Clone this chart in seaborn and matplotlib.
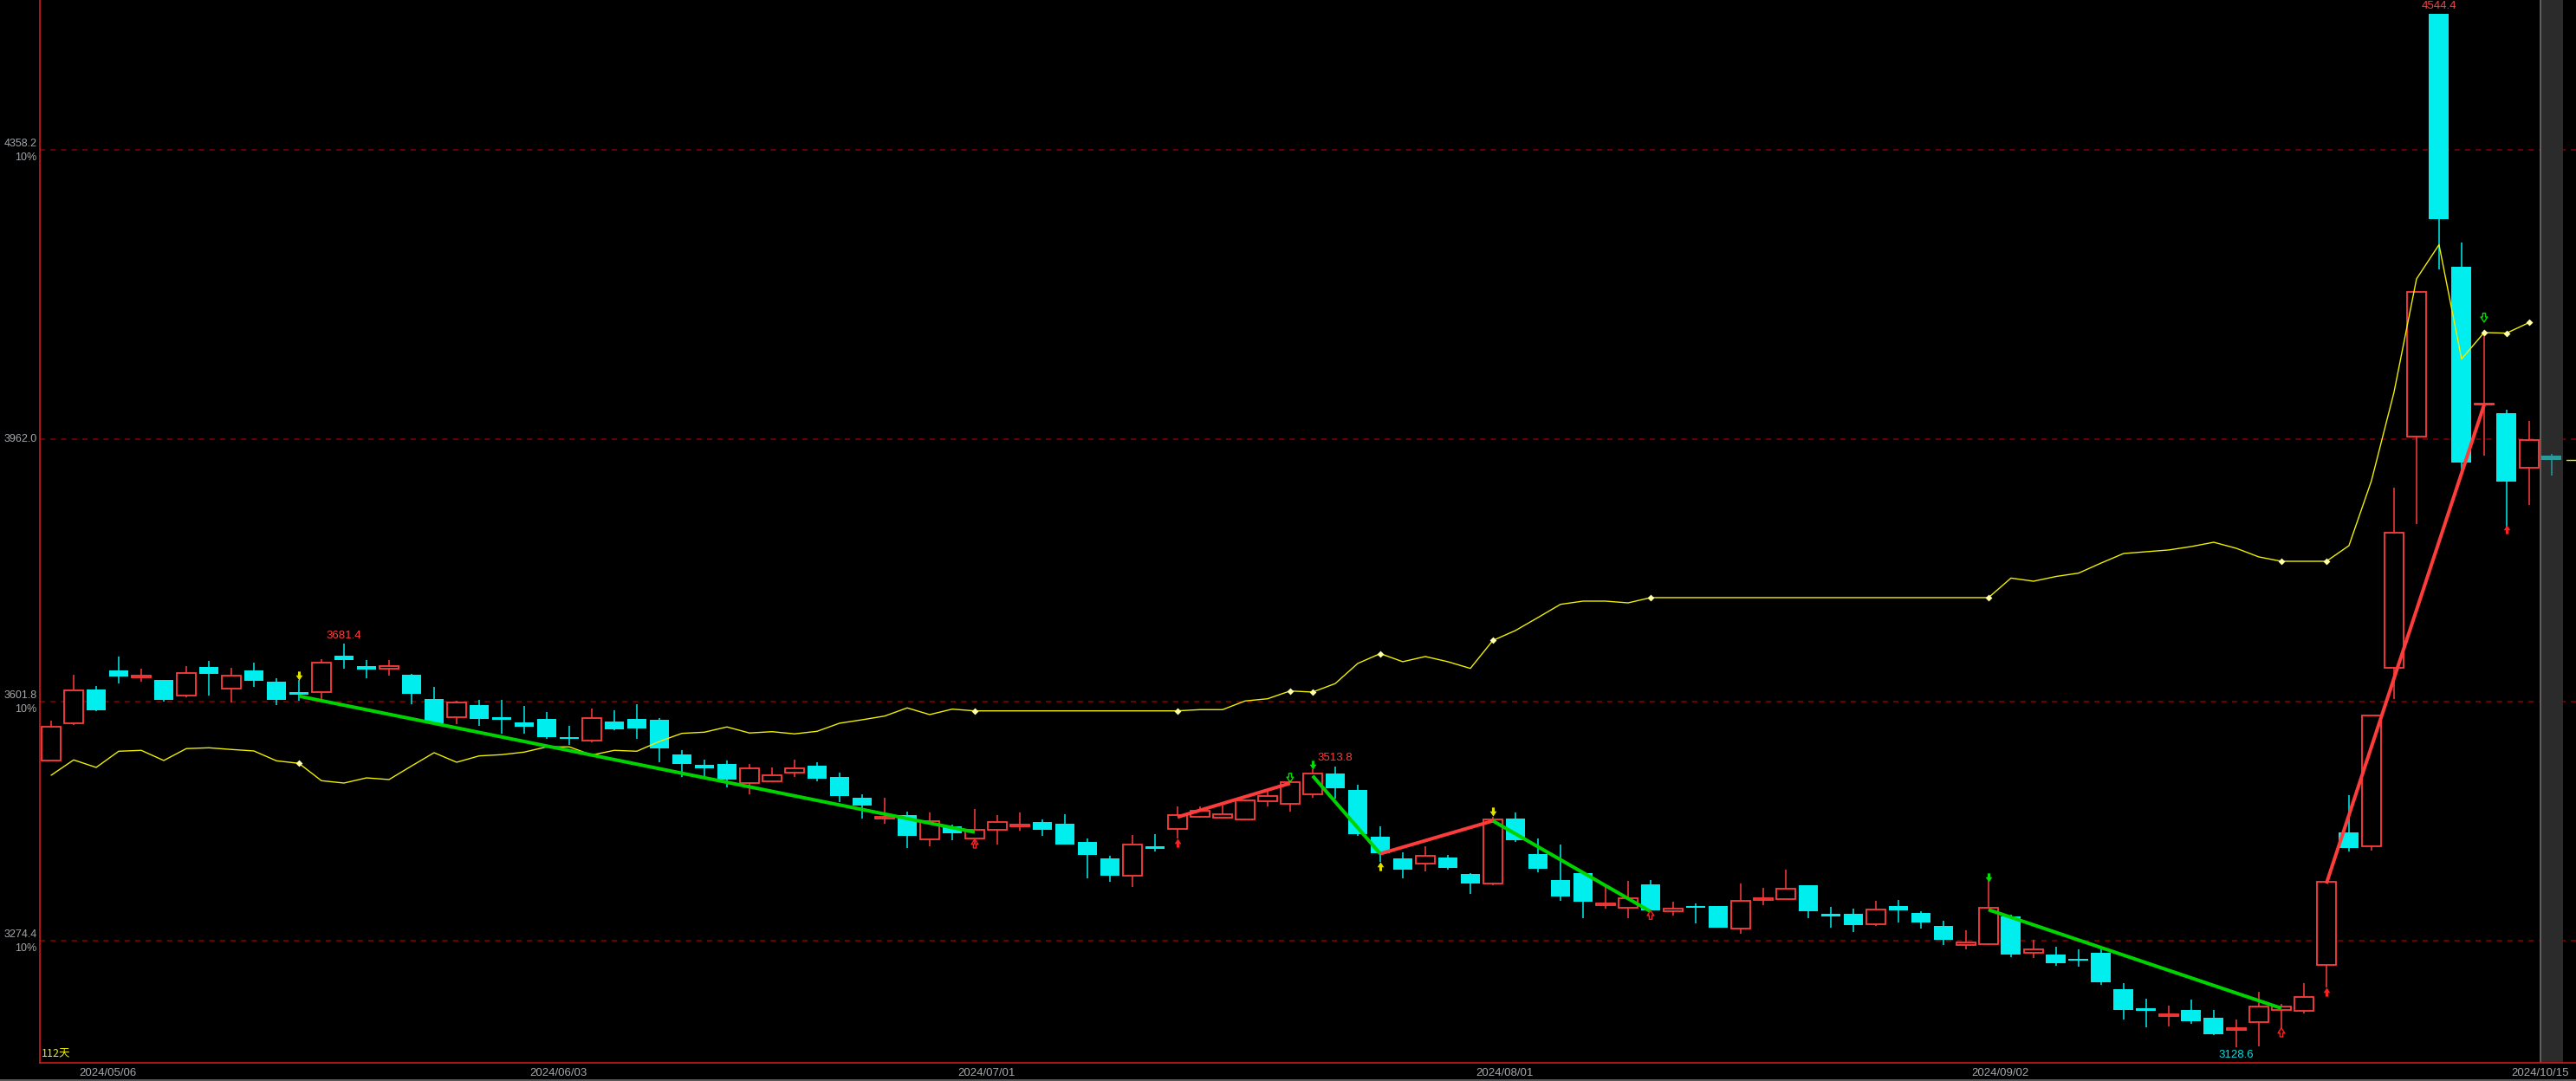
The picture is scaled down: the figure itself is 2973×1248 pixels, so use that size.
import numpy as np
import pandas as pd
import matplotlib
matplotlib.use("Agg")
import matplotlib.pyplot as plt
from matplotlib import font_manager
from matplotlib.lines import Line2D
import seaborn as sns

# ---- data (112 daily candles) ----
open_ = [3521.3, 3573.0, 3618.9, 3645.1, 3635.9, 3632.0, 3610.3, 3649.8, 3619.8, 3645.1,
         3629.6, 3615.4, 3615.0, 3665.8, 3651.2, 3647.8, 3638.9, 3605.9, 3581.3, 3597.6,
         3581.0, 3573.8, 3578.6, 3553.7, 3549.2, 3575.0, 3578.6, 3577.4, 3529.4, 3515.7,
         3516.9, 3490.4, 3493.5, 3505.4, 3514.5, 3499.0, 3470.1, 3442.1, 3446.8, 3413.9,
         3431.4, 3415.1, 3427.0, 3431.7, 3437.3, 3435.0, 3410.0, 3387.5, 3364.1, 3404.1,
         3428.2, 3444.8, 3443.6, 3441.3, 3466.2, 3462.6, 3475.7, 3503.8, 3481.3, 3417.2,
         3387.5, 3380.0, 3388.7, 3366.1, 3353.4, 3442.1, 3393.4, 3357.8, 3367.3, 3323.0,
         3320.2, 3351.9, 3314.7, 3322.2, 3322.2, 3291.0, 3330.2, 3332.0, 3350.7, 3311.5,
         3311.5, 3296.9, 3322.2, 3312.7, 3294.9, 3268.4, 3270.5, 3307.9, 3257.7, 3255.4,
         3249.8, 3258.1, 3208.2, 3182.1, 3171.8, 3179.8, 3169.1, 3152.8, 3163.5, 3180.1,
         3178.9, 3241.1, 3423.0, 3404.1, 3648.6, 3965.8, 4544.4, 4198.2, 4008.9, 3997.6,
         3922.6, 3939.4]
high = [3576.2, 3639.1, 3623.7, 3664.1, 3647.4, 3632.0, 3651.2, 3657.8, 3648.6, 3655.9,
        3634.0, 3632.0, 3660.6, 3681.4, 3659.4, 3659.4, 3639.7, 3622.5, 3603.5, 3604.7,
        3604.7, 3596.4, 3588.1, 3569.1, 3592.5, 3590.5, 3598.8, 3579.4, 3535.3, 3522.8,
        3521.6, 3516.9, 3512.1, 3522.8, 3519.2, 3504.9, 3475.3, 3470.1, 3451.6, 3450.4,
        3433.4, 3455.5, 3446.8, 3450.4, 3440.9, 3448.0, 3414.8, 3391.0, 3419.5, 3420.7,
        3458.7, 3458.7, 3459.9, 3468.6, 3483.3, 3494.7, 3509.7, 3513.8, 3488.4, 3431.4,
        3395.8, 3404.1, 3392.2, 3367.3, 3444.5, 3450.4, 3414.8, 3406.5, 3369.7, 3349.1,
        3357.0, 3357.8, 3328.1, 3325.7, 3322.2, 3353.0, 3347.1, 3372.1, 3350.7, 3321.0,
        3318.7, 3329.3, 3330.5, 3315.1, 3301.6, 3288.9, 3356.0, 3310.3, 3275.5, 3266.0,
        3262.8, 3266.4, 3216.5, 3195.2, 3185.7, 3194.0, 3179.8, 3166.7, 3204.7, 3187.7,
        3216.5, 3355.1, 3473.7, 3583.5, 3895.4, 4163.3, 4544.4, 4231.4, 4111.9, 4002.1,
        3986.9, 3941.8]
low = [3521.0, 3570.6, 3589.3, 3627.6, 3630.0, 3602.7, 3608.6, 3611.0, 3601.5, 3622.2,
       3598.0, 3603.2, 3604.3, 3647.8, 3634.0, 3637.9, 3599.1, 3569.7, 3571.5, 3569.1,
       3558.1, 3558.8, 3550.9, 3543.0, 3546.9, 3563.5, 3551.3, 3519.6, 3498.7, 3499.4,
       3484.8, 3475.7, 3492.3, 3499.4, 3493.5, 3465.0, 3442.4, 3435.3, 3402.1, 3404.5,
       3412.8, 3406.5, 3406.5, 3425.8, 3418.3, 3406.5, 3360.5, 3355.8, 3348.7, 3396.8,
       3415.1, 3443.3, 3442.1, 3439.7, 3459.1, 3452.0, 3470.6, 3469.8, 3418.3, 3382.4,
       3360.5, 3370.0, 3372.4, 3339.0, 3351.0, 3410.4, 3368.8, 3329.7, 3306.0, 3318.1,
       3306.0, 3315.1, 3309.5, 3298.8, 3293.0, 3284.6, 3323.7, 3332.0, 3306.0, 3293.0,
       3287.0, 3295.2, 3300.0, 3291.7, 3269.1, 3263.2, 3269.1, 3252.2, 3251.3, 3240.6,
       3239.5, 3214.5, 3167.1, 3156.4, 3157.6, 3161.1, 3145.7, 3128.6, 3130.2, 3154.8,
       3175.4, 3210.3, 3396.5, 3398.0, 3605.4, 3846.1, 4194.4, 3916.9, 3939.3, 3840.9,
       3871.2, 3912.7]
close = [3567.6, 3617.4, 3590.5, 3637.1, 3637.9, 3605.1, 3641.4, 3640.7, 3638.5, 3631.2,
         3605.1, 3611.5, 3655.5, 3659.6, 3646.8, 3650.6, 3613.4, 3573.0, 3601.1, 3578.6,
         3577.8, 3567.9, 3554.0, 3551.6, 3579.4, 3564.7, 3565.9, 3538.6, 3517.2, 3511.3,
         3495.9, 3511.0, 3501.4, 3510.6, 3496.7, 3473.3, 3459.9, 3444.8, 3418.3, 3438.2,
         3422.3, 3426.3, 3437.0, 3433.8, 3426.7, 3406.5, 3392.2, 3363.7, 3406.1, 3400.9,
         3446.5, 3452.4, 3447.7, 3466.7, 3472.6, 3491.6, 3503.5, 3483.6, 3420.7, 3394.9,
         3372.4, 3391.0, 3374.8, 3353.4, 3440.5, 3412.8, 3373.6, 3335.6, 3328.5, 3325.7,
         3332.5, 3316.6, 3318.3, 3320.2, 3293.0, 3329.0, 3332.5, 3345.6, 3315.5, 3308.3,
         3296.4, 3317.1, 3316.6, 3300.0, 3276.2, 3272.3, 3319.5, 3255.7, 3262.5, 3244.2,
         3247.8, 3218.1, 3180.1, 3178.9, 3173.8, 3164.7, 3146.9, 3154.8, 3184.2, 3184.5,
         3197.2, 3355.1, 3401.7, 3583.5, 3833.3, 4163.3, 4263.3, 3929.5, 4011.1, 3903.7,
         3961.2, 3933.5]

# yellow line
ma_line = ([3501.4, 3522.4, 3512.1, 3534.3, 3535.5, 3521.6, 3537.9, 3539.0, 3536.7, 3534.7,
            3521.2, 3517.7, 3493.9, 3490.7, 3497.8, 3495.5, 3514.1, 3532.3, 3519.2, 3527.9,
            3529.6, 3533.1, 3540.3, 3540.3, 3529.1, 3535.5, 3534.3, 3547.7, 3558.8, 3560.4,
            3567.6, 3559.3, 3561.1, 3558.1, 3561.6, 3572.7, 3577.4, 3582.5, 3593.7, 3584.5,
            3592.0]
           + [3589.6] * 10
           + [3591.3, 3591.3, 3603.2, 3606.2, 3616.9, 3615.4, 3627.0, 3654.6, 3668.1, 3657.0,
              3664.1, 3657.0, 3647.8, 3686.1, 3699.7, 3717.5, 3735.6, 3740.0, 3740.0, 3737.6]
           + [3744.8] * 16
           + [3771.6, 3767.3, 3773.8, 3778.4, 3792.2, 3805.3, 3807.7, 3810.1, 3814.8, 3820.7,
              3812.4, 3800.6, 3794.6, 3794.6, 3794.6, 3816.0, 3905.0, 4026.1, 4181.6, 4228.5,
              4071.8, 4108.0, 4107.3, 4121.8, np.nan])
ma_dots = [11, 41, 50, 55, 56, 59, 64, 71, 86, 99, 101, 108, 109, 110]

# zigzag trend segments
seg_x0 = [11, 50, 56, 59, 64, 86, 101]
seg_y0 = [3609.8, 3444.1, 3500.6, 3393.8, 3438.9, 3317.1, 3353.0]
seg_x1 = [41, 55, 59, 64, 71, 99, 108]
seg_y1 = [3423.4, 3490.4, 3393.8, 3438.9, 3314.7, 3182.1, 4008.9]
seg_up = [False, True, False, True, False, False, True]

# signal arrows: index, price, direction, colour, filled
sig_idx = [11, 41, 50, 55, 56, 59, 64, 71, 86, 99, 101, 108, 109]
sig_val = [3638.5, 3407.7, 3408.9, 3497.9, 3515.7, 3376.4, 3451.2, 3310.0, 3361.7,
           3148.9, 3204.4, 4128.5, 3838.5]
sig_dir = ["d", "u", "u", "d", "d", "u", "d", "u", "d", "u", "u", "d", "u"]
sig_col = ["y", "r", "r", "g", "g", "y", "y", "r", "g", "r", "r", "g", "r"]
sig_fill = [1, 0, 1, 0, 1, 1, 1, 0, 1, 0, 1, 0, 1]

grid_levels = [4358.2, 3962.0, 3601.8, 3274.4]
grid_labels = ["4358.2", "3962.0", "3601.8", "3274.4"]
grid_pct = ["10%", "", "10%", "10%"]

date_idx = [0, 20, 39, 62, 84]
date_labels = ["2024/05/06", "2024/06/03", "2024/07/01", "2024/08/01", "2024/09/02"]
last_date = "2024/10/15"

RED = "#ff3c3c"
CYAN = "#00eeee"
GREEN = "#00d400"
YELLOW = "#f0f000"
GRAY_TXT = "#a4a8ac"

sns.set_theme(style="dark", rc={"axes.facecolor": "black", "figure.facecolor": "black"})
names = {f.name for f in font_manager.fontManager.ttflist}
num_font = "Liberation Sans Narrow" if "Liberation Sans Narrow" in names else "Liberation Sans"
plt.rcParams["font.family"] = [num_font, "DejaVu Sans"]

o = np.array(open_)
h = np.array(high)
l = np.array(low)
c = np.array(close)
x = np.arange(len(c))
up = c >= o
bot = np.minimum(o, c)
bh = np.maximum(np.abs(c - o), 2.0)

fig = plt.figure(figsize=(29.73, 12.48), dpi=100)
ax = fig.add_axes([46 / 2973, 21 / 1248, 1 - 46 / 2973, 1 - 21 / 1248])
ax.set_facecolor("black")

for lv in grid_levels:
    ax.axhline(lv, color="#8a0000", lw=1.1, ls=(0, (4, 4)), zorder=1)

# current-bar band
ax.axvspan(110.5, 111.5, color="#2b2b2b", zorder=1.5, lw=0)
ax.axvline(110.5, color="#6e6e6e", lw=1.2, zorder=1.6)

last = len(c) - 1
main = x < last
ru = up & main
cd = (~up) & main

# wicks
ax.vlines(x[ru], l[ru], h[ru], color=RED, lw=1.1, zorder=2)
ax.vlines(x[cd], l[cd], h[cd], color=CYAN, lw=1.1, zorder=2)
ax.vlines([last], [l[last]], [h[last]], color="#2a9a9a", lw=1.1, zorder=2)

# bodies
ax.bar(x[ru], bh[ru], bottom=bot[ru], width=0.84, facecolor="black",
       edgecolor=RED, linewidth=1.3, zorder=3)
ax.bar(x[cd], bh[cd], bottom=bot[cd], width=0.88, color=CYAN, linewidth=0, zorder=3)
ax.bar([last], [max(abs(c[last] - o[last]), 4.0)], bottom=[min(o[last], c[last])],
       width=0.88, color="#2a9a9a", linewidth=0, zorder=3)

# yellow line
ma_df = pd.DataFrame({"idx": x, "ma": ma_line})
sns.lineplot(data=ma_df, x="idx", y="ma", color=YELLOW, linewidth=1.0, ax=ax, zorder=4)
ax.scatter(ma_dots, [ma_line[i] for i in ma_dots], marker="D", s=16,
           color="#ffffa8", zorder=5, linewidths=0)
ax.plot([111.65, 112.2], [c[last], c[last]], color=YELLOW, lw=1.0, zorder=4)

# zigzag
for x0, y0, x1, y1, isup in zip(seg_x0, seg_y0, seg_x1, seg_y1, seg_up):
    ax.plot([x0, x1], [y0, y1], color=RED if isup else GREEN, lw=2.9,
            solid_capstyle="butt", zorder=6)

# arrows
down_arrow = [(-0.3, 1), (0.3, 1), (0.3, 0.15), (0.75, 0.15), (0, -1),
              (-0.75, 0.15), (-0.3, 0.15), (-0.3, 1)]
up_arrow = [(vx, -vy) for vx, vy in down_arrow]
cmap = {"r": "#ff2020", "g": "#00e000", "y": "#e0e000"}
for i, v, d, col, f in zip(sig_idx, sig_val, sig_dir, sig_col, sig_fill):
    mk = down_arrow if d == "d" else up_arrow
    if f:
        ax.scatter([i], [v], marker=mk, s=55, color=cmap[col], linewidths=0, zorder=7)
    else:
        ax.scatter([i], [v], marker=mk, s=55, facecolors="none",
                   edgecolors=cmap[col], linewidths=1.0, zorder=7)

# extreme labels
hi_idx = [13, 57, 106]
for i in hi_idx:
    ax.annotate(f"{h[i]:.1f}", xy=(i, h[i]), xytext=(0, 7), textcoords="offset points",
                ha="center", va="center", color=RED, fontsize=9.5, zorder=8)
ax.annotate(f"{l[97]:.1f}", xy=(97, l[97]), xytext=(0, -6.5), textcoords="offset points",
            ha="center", va="center", color="#00e0e0", fontsize=9.5, zorder=8)

# y labels on the left
ytr = ax.get_yaxis_transform()
for lv, lab, pct in zip(grid_levels, grid_labels, grid_pct):
    if pct:
        ax.annotate(lab, xy=(0, lv), xycoords=ytr, xytext=(-2.5, 5.2),
                    textcoords="offset points", ha="right", va="center",
                    color=GRAY_TXT, fontsize=9, annotation_clip=False)
        ax.annotate(pct, xy=(0, lv), xycoords=ytr, xytext=(-2.5, -6.2),
                    textcoords="offset points", ha="right", va="center",
                    color=GRAY_TXT, fontsize=9, annotation_clip=False)
    else:
        ax.annotate(lab, xy=(0, lv), xycoords=ytr, xytext=(-2.5, 0),
                    textcoords="offset points", ha="right", va="center",
                    color=GRAY_TXT, fontsize=9, annotation_clip=False)

# date labels
xtr = ax.get_xaxis_transform()
for i, lab in zip(date_idx, date_labels):
    ax.annotate(lab, xy=(i, 0), xycoords=xtr, xytext=(23, -8.5), textcoords="offset points",
                ha="left", va="center", color=GRAY_TXT, fontsize=9.5, annotation_clip=False)
ax.annotate(last_date, xy=(111.77, 0), xycoords=xtr, xytext=(0, -8.5),
            textcoords="offset points", ha="right", va="center", color=GRAY_TXT,
            fontsize=9.5, annotation_clip=False)

ax.annotate("112天", xy=(0, 0), xycoords="axes fraction", xytext=(1.5, 7.5),
            textcoords="offset points", ha="left", va="center", color=YELLOW,
            fontsize=9, family=["Noto Sans CJK SC", "DejaVu Sans"])

ax.set_xlim(-0.5, 112.08)
ax.set_ylim(3107.3, 4563.8)
ax.set_xticks([])
ax.set_yticks([])
ax.set_xlabel("")
ax.set_ylabel("")
ax.grid(False)
for side in ["top", "right"]:
    ax.spines[side].set_visible(False)
for side in ["left", "bottom"]:
    ax.spines[side].set_color("#d41a1a")
    ax.spines[side].set_linewidth(1.2)
    ax.spines[side].set_zorder(9)

fig.add_artist(Line2D([0, 1], [1.5 / 1248, 1.5 / 1248], color="#6a6a6a", lw=1.2))

fig.savefig("out.png", dpi=100, facecolor="black")
